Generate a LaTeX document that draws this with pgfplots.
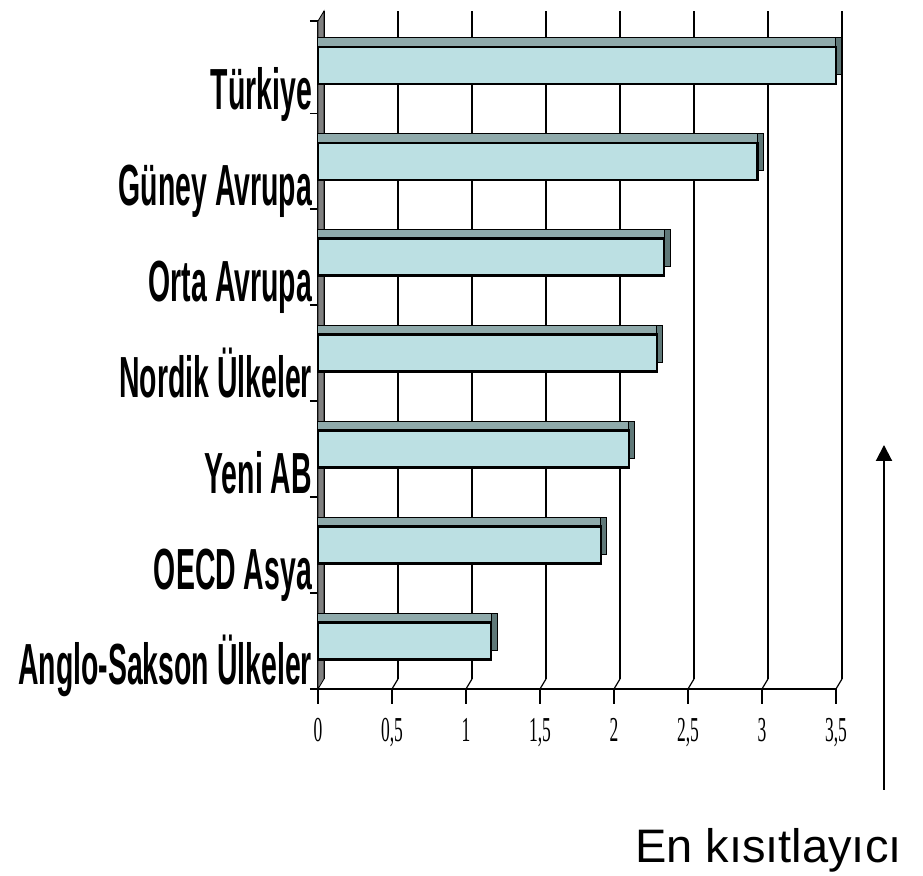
\documentclass[border=0pt]{standalone}
\usepackage{fontspec}
\setmainfont{Liberation Sans}
\newfontfamily\labfont{Liberation Sans}[FakeStretch=0.49]
\newfontfamily\tickfont{Liberation Serif}[FakeStretch=0.5]
\usepackage{pgfplots}
\pgfplotsset{compat=1.18}
\usetikzlibrary{arrows.meta}
\definecolor{frontc}{RGB}{188,224,227}
\definecolor{topc}{RGB}{143,170,171}
\definecolor{sidec}{RGB}{95,120,120}
\definecolor{wallc}{RGB}{128,128,128}
\begin{document}
\begin{tikzpicture}
\useasboundingbox (0,0) rectangle (461.5pt,438pt);
\begin{axis}[
  scale only axis, width=259pt, height=334pt,
  at={(159pt,93.5pt)}, anchor=south west,
  xmin=0, xmax=3.5, ymin=0.5, ymax=7.46,
  axis x line*=bottom, axis y line*=left,
  x axis line style={line width=1.2pt,-},
  y axis line style={line width=0.6pt,-},
  xtick={0,0.5,1,1.5,2,2.5,3,3.5},
  xticklabels={0,{0,5},1,{1,5},2,{2,5},3,{3,5}},
  xticklabel style={font=\tickfont\fontsize{17.5}{19}\selectfont, anchor=base, yshift=-19pt},
  ytick={0.5,1.5,2.5,3.5,4.5,5.5,6.5},
  yticklabels={Anglo-Sakson Ülkeler,OECD Asya,Yeni AB,Nordik Ülkeler,Orta Avrupa,Güney Avrupa,Türkiye},
  yticklabel style={font=\labfont\bfseries\fontsize{29}{31}\selectfont, anchor=base east, yshift=2pt, xshift=8pt},
  extra y ticks={7.46}, extra y tick labels={},
  tick align=outside, major tick length=7.5pt,
  ytick style={/pgfplots/major tick length=4pt, black, line width=0.6pt},
  xtick style={black, line width=0.6pt},
  xmajorgrids,
  major grid style={black, line width=0.6pt, xshift=3pt, yshift=5pt},
  clip=false,
]
\filldraw[fill=wallc, draw=black, line width=0.4pt] (axis cs:0,0.5) -- ([shift={(3pt,5pt)}]axis cs:0,0.5) -- ([shift={(3pt,5pt)}]axis cs:0,7.46) -- (axis cs:0,7.46) -- cycle;
\pgfplotsinvokeforeach{0.5,1,1.5,2,2.5,3,3.5}{\draw[black, line width=0.6pt] (axis cs:#1,0.5) -- ++(3pt,5pt);}
\addplot[xbar, bar shift=0pt, bar width=18.5pt, fill=sidec, draw=black, line width=0.5pt, xshift=3pt, yshift=4.5pt] coordinates {(1.17,1) (1.91,2) (2.10,3) (2.29,4) (2.34,5) (2.97,6) (3.50,7)};
\addplot[xbar, bar shift=0pt, bar width=18.5pt, fill=topc, draw=black, line width=0.5pt, yshift=4.5pt] coordinates {(1.17,1) (1.91,2) (2.10,3) (2.29,4) (2.34,5) (2.97,6) (3.50,7)};
\addplot[xbar, bar shift=0pt, bar width=18.5pt, fill=frontc, draw=black, line width=1.1pt] coordinates {(1.17,1) (1.91,2) (2.10,3) (2.29,4) (2.34,5) (2.97,6) (3.50,7)};
\end{axis}
\draw[line width=1pt, -{Triangle[width=8pt,length=8pt]}] (442pt,43pt) -- (442pt,215.5pt);
\node[anchor=base east, inner sep=0pt, font=\fontsize{23.5}{26}\selectfont] at (451pt,6.5pt) {En kısıtlayıcı};
\end{tikzpicture}
\end{document}
